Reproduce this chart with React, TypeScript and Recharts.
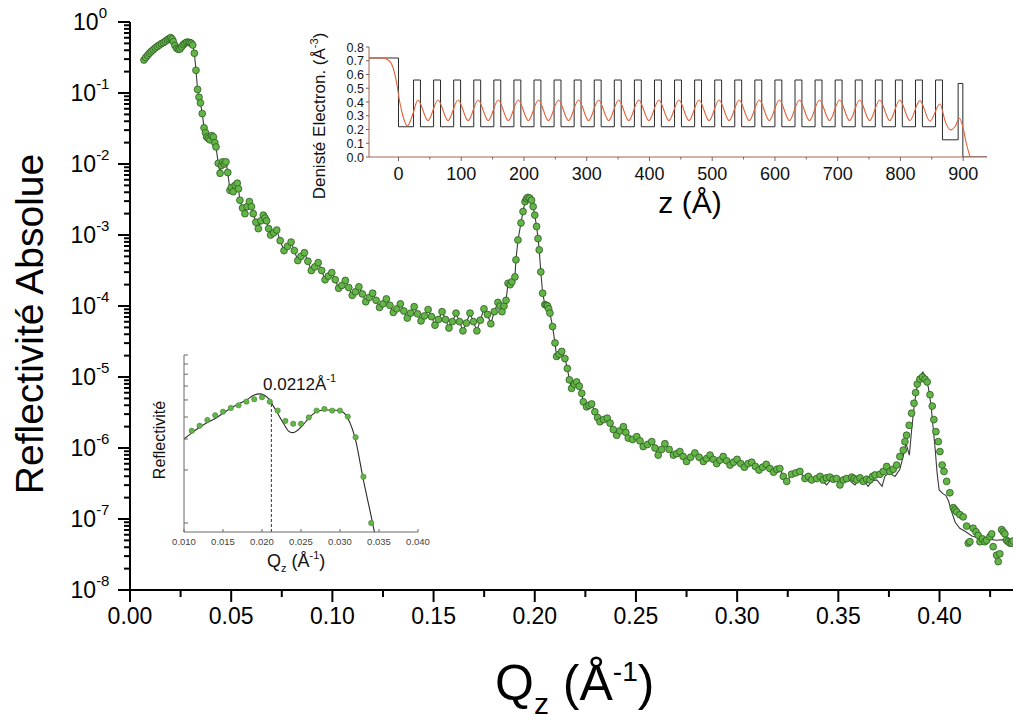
import React from 'react';
import { ComposedChart, Line, Scatter, XAxis, YAxis, ReferenceLine } from 'recharts';

const FONT = "'Liberation Sans', Arial, Helvetica, sans-serif";

// ---------------- Main chart: [Qz (Å^-1), log10(reflectivity)] ----------------
const criticalEdge: [number, number][] = [
  [0.0069, -0.535], [0.0078, -0.5], [0.0087, -0.47], [0.0096, -0.44], [0.0105, -0.415], [0.0115, -0.39],
  [0.0125, -0.365], [0.0135, -0.345], [0.0145, -0.325], [0.0155, -0.305], [0.0165, -0.29], [0.0175, -0.27],
  [0.0185, -0.25], [0.0193, -0.235], [0.0201, -0.22], [0.0208, -0.24], [0.0214, -0.275], [0.0222, -0.33],
  [0.0231, -0.37], [0.0239, -0.385], [0.0247, -0.38], [0.0255, -0.35], [0.0263, -0.32], [0.0271, -0.3],
  [0.028, -0.285], [0.0288, -0.285], [0.0296, -0.29], [0.0303, -0.3], [0.031, -0.325], [0.0318, -0.44],
  [0.0326, -0.68], [0.0334, -0.95], [0.0341, -1.06], [0.0348, -1.14], [0.0357, -1.29], [0.0366, -1.49],
];

const fringesLow: [number, number][] = [
  [0.0373, -1.56], [0.0379, -1.62], [0.0387, -1.64], [0.0395, -1.66], [0.0404, -1.6], [0.0412, -1.62],
  [0.0419, -1.7], [0.0425, -1.76], [0.0436, -1.99], [0.0445, -2.13], [0.0452, -2.02], [0.0458, -1.97],
  [0.0466, -2.0], [0.0474, -1.97], [0.0483, -2.12], [0.0494, -2.37], [0.0501, -2.33], [0.051, -2.39],
  [0.052, -2.3], [0.053, -2.27], [0.0536, -2.35], [0.0543, -2.51], [0.0556, -2.62], [0.0568, -2.7],
  [0.0579, -2.6], [0.059, -2.53], [0.06, -2.6], [0.0609, -2.7], [0.0622, -2.82], [0.0634, -2.91],
  [0.0647, -2.8], [0.0659, -2.72], [0.0667, -2.76], [0.0675, -2.8], [0.0685, -2.91], [0.0695, -3.0],
  [0.071, -2.97], [0.0725, -2.93], [0.0742, -3.08], [0.0761, -3.22], [0.0778, -3.16], [0.0796, -3.1],
  [0.0812, -3.22], [0.0829, -3.36], [0.0845, -3.3], [0.0862, -3.25], [0.0879, -3.37], [0.0896, -3.5],
  [0.0913, -3.45], [0.093, -3.39], [0.0947, -3.5], [0.0964, -3.63], [0.098, -3.58], [0.0997, -3.53],
  [0.1014, -3.63], [0.1031, -3.75], [0.1047, -3.71], [0.1064, -3.64], [0.1081, -3.74], [0.1098, -3.85],
  [0.1114, -3.8], [0.1131, -3.73], [0.1148, -3.83], [0.1165, -3.94], [0.1182, -3.88], [0.1199, -3.82],
  [0.1216, -3.92], [0.1233, -4.02], [0.125, -3.97], [0.1267, -3.9], [0.1284, -3.99], [0.1301, -4.09],
  [0.1318, -4.04], [0.1336, -3.97], [0.1353, -4.07], [0.137, -4.17], [0.1387, -4.1], [0.1404, -4.01],
  [0.1421, -4.11], [0.1438, -4.21], [0.1455, -4.14], [0.1473, -4.05], [0.149, -4.15], [0.1507, -4.27],
  [0.1524, -4.19], [0.1542, -4.08], [0.1559, -4.19], [0.1576, -4.31], [0.1593, -4.22], [0.1611, -4.1],
  [0.1628, -4.22], [0.1645, -4.35], [0.1662, -4.24], [0.168, -4.1], [0.1697, -4.22], [0.1714, -4.35],
  [0.1731, -4.2], [0.1749, -4.04], [0.1766, -4.12], [0.1783, -4.25], [0.18, -4.08], [0.1818, -3.95],
  [0.1828, -4.0], [0.1838, -4.08],
];

const braggPeak1: [number, number][] = [
  [0.1848, -4.0], [0.1858, -3.92], [0.1868, -3.68], [0.1878, -3.7], [0.1887, -3.66], [0.1902, -3.59],
  [0.1907, -3.35], [0.1917, -3.07], [0.1932, -2.83], [0.1942, -2.67], [0.1952, -2.53], [0.1959, -2.49],
  [0.1966, -2.47], [0.1975, -2.48], [0.1984, -2.51], [0.1992, -2.6], [0.2, -2.72], [0.2009, -2.88],
  [0.2016, -3.05], [0.2022, -3.21], [0.203, -3.52], [0.2039, -3.82], [0.205, -3.98], [0.2057, -3.99],
  [0.2063, -4.0], [0.2069, -4.04], [0.2075, -4.1], [0.2088, -4.29], [0.21, -4.52], [0.2108, -4.71],
  [0.212, -4.68], [0.2133, -4.64], [0.2149, -4.74], [0.2161, -4.88], [0.2171, -5.04], [0.2182, -5.16],
  [0.2195, -5.1], [0.2207, -5.07],
];

const fringesHigh: [number, number][] = [
  [0.222, -5.13], [0.2232, -5.23], [0.224, -5.35], [0.2256, -5.42], [0.2268, -5.4], [0.2281, -5.38],
  [0.2297, -5.49], [0.231, -5.57], [0.2322, -5.63], [0.234, -5.6], [0.2358, -5.58], [0.2372, -5.65],
  [0.2388, -5.74], [0.2405, -5.82], [0.2421, -5.76], [0.2438, -5.7], [0.245, -5.78], [0.2462, -5.86],
  [0.2483, -5.88], [0.2504, -5.84], [0.252, -5.9], [0.2536, -5.98], [0.2557, -5.95], [0.2578, -5.91],
  [0.2594, -6.0], [0.261, -6.1], [0.2627, -6.02], [0.2643, -5.94], [0.2664, -6.02], [0.2685, -6.1],
  [0.2701, -6.08], [0.2717, -6.05], [0.2733, -6.12], [0.275, -6.19], [0.277, -6.13], [0.2791, -6.07],
  [0.2812, -6.13], [0.2833, -6.19], [0.2849, -6.15], [0.2866, -6.1], [0.2882, -6.16], [0.2899, -6.22],
  [0.2915, -6.17], [0.2931, -6.12], [0.2948, -6.18], [0.2965, -6.24], [0.2982, -6.2], [0.3, -6.16],
  [0.3018, -6.22], [0.3036, -6.27], [0.3054, -6.22], [0.3072, -6.2], [0.309, -6.26], [0.3108, -6.31],
  [0.3126, -6.27], [0.3144, -6.23], [0.3162, -6.29], [0.318, -6.34], [0.3196, -6.3], [0.3211, -6.29],
  [0.3228, -6.4], [0.3245, -6.47], [0.3269, -6.37], [0.329, -6.35], [0.331, -6.33], [0.3335, -6.43],
  [0.3352, -6.4], [0.3368, -6.45], [0.3393, -6.43], [0.341, -6.4], [0.3425, -6.45], [0.3441, -6.42],
  [0.3458, -6.41], [0.3475, -6.44], [0.3491, -6.43], [0.3508, -6.52], [0.3525, -6.45], [0.3541, -6.43],
  [0.3566, -6.41], [0.3578, -6.43], [0.359, -6.45], [0.3607, -6.42], [0.3623, -6.47], [0.364, -6.44],
  [0.3656, -6.45], [0.3669, -6.4], [0.3681, -6.38], [0.3706, -6.37], [0.3722, -6.33], [0.3739, -6.26],
  [0.3755, -6.33], [0.3771, -6.3], [0.3788, -6.24],
];

const braggPeak2: [number, number][] = [
  [0.3804, -6.12], [0.3821, -6.03], [0.3829, -5.91], [0.3837, -5.82], [0.385, -5.68], [0.3862, -5.51],
  [0.3874, -5.37], [0.3882, -5.22], [0.389, -5.1], [0.3903, -5.03], [0.3916, -5.0], [0.3928, -5.03],
  [0.3939, -5.07], [0.3953, -5.25], [0.3964, -5.41], [0.3972, -5.6], [0.3982, -5.77], [0.3994, -5.91],
  [0.4002, -6.05], [0.4013, -6.24], [0.4022, -6.33], [0.4035, -6.47], [0.4051, -6.63], [0.4068, -6.84],
  [0.4076, -6.87], [0.4085, -6.9], [0.4101, -6.94], [0.4117, -6.97], [0.4134, -7.1], [0.4142, -7.34],
  [0.415, -7.32], [0.4166, -7.13], [0.418, -7.18], [0.4191, -7.23], [0.42, -7.32], [0.4212, -7.28],
  [0.4224, -7.32], [0.4233, -7.3], [0.4249, -7.25], [0.4258, -7.21], [0.4265, -7.39], [0.4282, -7.51],
  [0.429, -7.6], [0.4298, -7.49], [0.4307, -7.15], [0.4315, -7.18], [0.4323, -7.21], [0.4331, -7.3],
  [0.4339, -7.32], [0.4348, -7.34], [0.4356, -7.34], [0.4363, -7.31],
];

// simulated curve where it departs from the measured points
const fitTail: [number, number][] = [
  [0.34, -6.42], [0.342, -6.46], [0.3442, -6.52], [0.3465, -6.44], [0.349, -6.42], [0.3515, -6.44],
  [0.354, -6.42], [0.356, -6.47], [0.3582, -6.52], [0.3605, -6.44], [0.3625, -6.45], [0.3647, -6.54],
  [0.3668, -6.46], [0.369, -6.45], [0.3716, -6.54], [0.373, -6.4], [0.375, -6.35], [0.378, -6.4],
  [0.3804, -6.3], [0.382, -6.12], [0.3834, -5.93], [0.3851, -6.1], [0.3862, -5.75], [0.3875, -5.4],
  [0.389, -5.12], [0.3905, -4.98], [0.3918, -4.93], [0.3932, -5.02], [0.3945, -5.15], [0.3958, -5.4],
  [0.3968, -5.7], [0.3978, -6.0], [0.3988, -6.35], [0.3998, -6.59], [0.4015, -6.64], [0.4032, -6.67],
  [0.4045, -6.75], [0.406, -6.9], [0.4078, -7.05], [0.41, -7.13], [0.413, -7.18], [0.416, -7.24],
  [0.42, -7.27], [0.424, -7.28], [0.428, -7.3], [0.432, -7.29], [0.4363, -7.3],
];

const mainXTicks = [0, 0.025, 0.05, 0.075, 0.1, 0.125, 0.15, 0.175, 0.2, 0.225, 0.25, 0.275, 0.3, 0.325, 0.35, 0.375, 0.4, 0.425];
const decades = [-8, -7, -6, -5, -4, -3, -2, -1, 0];
const mantissas = [1, 2, 3, 4, 5, 6, 7, 8, 9];

// ---------------- Electron density inset: [z (Å), density (Å^-3)] ----------------
const stepProfile: [number, number][] = [
  [-47, 0.72], [0, 0.22], [24, 0.56], [35, 0.22], [56, 0.56], [67, 0.22], [88, 0.56], [99, 0.22],
  [120, 0.56], [131, 0.22], [152, 0.56], [163, 0.22], [184, 0.56], [195, 0.22], [216, 0.56], [227, 0.22],
  [248, 0.56], [259, 0.22], [280, 0.56], [291, 0.22], [312, 0.56], [323, 0.22], [344, 0.56], [355, 0.22],
  [376, 0.56], [387, 0.22], [408, 0.56], [419, 0.22], [440, 0.56], [451, 0.22], [472, 0.56], [483, 0.22],
  [504, 0.56], [515, 0.22], [536, 0.56], [547, 0.22], [568, 0.56], [579, 0.22], [600, 0.56], [611, 0.22],
  [632, 0.56], [643, 0.22], [664, 0.56], [675, 0.22], [696, 0.56], [707, 0.22], [728, 0.56], [739, 0.22],
  [760, 0.56], [771, 0.22], [792, 0.56], [803, 0.22], [824, 0.56], [835, 0.22], [856, 0.56], [867, 0.125],
  [892, 0.535], [899.5, 0], [938, 0],
];

const smoothProfile: [number, number][] = [
  [-47, 0.72], [-25, 0.72], [-15, 0.7], [-8, 0.64], [-3, 0.54], [2, 0.4], [7, 0.3], [14, 0.225], [22, 0.3],
  [31, 0.415], [47, 0.265], [63, 0.415], [79, 0.265], [95, 0.415], [111, 0.265], [127, 0.415], [143, 0.265],
  [159, 0.415], [175, 0.265], [191, 0.415], [207, 0.265], [223, 0.415], [239, 0.265], [255, 0.415], [271, 0.265],
  [287, 0.415], [303, 0.265], [319, 0.415], [335, 0.265], [351, 0.415], [367, 0.265], [383, 0.415], [399, 0.265],
  [415, 0.415], [431, 0.265], [447, 0.415], [463, 0.265], [479, 0.415], [495, 0.265], [511, 0.415], [527, 0.265],
  [543, 0.415], [559, 0.265], [575, 0.415], [591, 0.265], [607, 0.415], [623, 0.265], [639, 0.415], [655, 0.265],
  [671, 0.415], [687, 0.265], [703, 0.415], [719, 0.265], [735, 0.415], [751, 0.265], [767, 0.415], [783, 0.265],
  [799, 0.415], [815, 0.265], [831, 0.41], [847, 0.26], [863, 0.385], [872, 0.25], [880, 0.197], [887, 0.22],
  [894, 0.282], [900, 0.21], [905, 0.1], [911, 0],
];

const zTicks = [0, 50, 100, 150, 200, 250, 300, 350, 400, 450, 500, 550, 600, 650, 700, 750, 800, 850, 900];
const densTicks = [0, 0.1, 0.2, 0.3, 0.4, 0.5, 0.6, 0.7, 0.8];

// ---------------- Critical-angle inset: [Qz, reflectivity] ----------------
const insetMeasured: [number, number][] = [
  [0.011, 0.334], [0.012, 0.357], [0.013, 0.385], [0.014, 0.409], [0.015, 0.429], [0.016, 0.45],
  [0.017, 0.466], [0.018, 0.489], [0.019, 0.505], [0.02, 0.518], [0.021, 0.489], [0.022, 0.435],
  [0.023, 0.38], [0.024, 0.366], [0.025, 0.366], [0.026, 0.398], [0.027, 0.435], [0.028, 0.444],
  [0.029, 0.435], [0.03, 0.435], [0.031, 0.402], [0.032, 0.307], [0.033, 0.183], [0.034, 0.1],
];
const insetFit: [number, number][] = [
  [0.01, 0.3], [0.011, 0.325], [0.012, 0.35], [0.013, 0.372], [0.014, 0.392], [0.015, 0.42], [0.016, 0.449],
  [0.017, 0.475], [0.018, 0.5], [0.019, 0.533], [0.0197, 0.541], [0.0205, 0.525], [0.021, 0.5],
  [0.0215, 0.458], [0.022, 0.42], [0.0228, 0.365], [0.0235, 0.33], [0.024, 0.326], [0.025, 0.35],
  [0.026, 0.394], [0.027, 0.428], [0.028, 0.438], [0.029, 0.438], [0.03, 0.434], [0.031, 0.394],
  [0.032, 0.296], [0.033, 0.175], [0.034, 0.109], [0.0345, 0.085],
];
const insetXTicks = [0.01, 0.015, 0.02, 0.025, 0.03, 0.035, 0.04];
const insetYTicks = [0.1, 0.2, 0.3, 0.4, 0.5, 0.6, 0.7, 0.8, 0.9];
const criticalQ = 0.0212;

// ---------------- derived tables ----------------
const toPts = (arr: [number, number][]) => arr.map(([q, lg]) => ({ q, r: Math.pow(10, lg) }));
const measured = toPts([...criticalEdge, ...fringesLow, ...braggPeak1, ...fringesHigh, ...braggPeak2]);
const fitLine = [...measured.filter((p) => p.q < 0.34), ...toPts(fitTail)];
const mainYTicks = decades.flatMap((d) => mantissas.map((m) => m * Math.pow(10, d))).filter((v) => v <= 1.0000001);
const stepData = stepProfile.map(([z, v]) => ({ z, v }));
const smoothData = smoothProfile.map(([z, v]) => ({ z, v }));
const insetData = insetMeasured.map(([q, r]) => ({ q, r }));
const insetFitData = insetFit.map(([q, r]) => ({ q, r }));

const isDecade = (v: number) => Math.abs(Math.log10(v) - Math.round(Math.log10(v))) < 1e-6;
const isMult = (v: number, s: number) => Math.abs(v / s - Math.round(v / s)) < 1e-6;

// ---------------- tick renderers ----------------
const MainBottomTick = (p: any) => {
  const v = p.payload.value;
  const major = isMult(v, 0.05);
  return (
    <g>
      <line x1={p.x} x2={p.x} y1={p.y} y2={p.y + (major ? 12 : 7)} stroke="#000" strokeWidth={2} />
      {major && (
        <text x={p.x} y={p.y + 34} textAnchor="middle" fontSize={23} fontFamily={FONT} fill="#000">
          {v.toFixed(2)}
        </text>
      )}
    </g>
  );
};
const MainTopTick = (p: any) => {
  const major = isMult(p.payload.value, 0.05);
  return <line x1={p.x} x2={p.x} y1={p.y} y2={p.y + (major ? 10 : 8)} stroke="#000" strokeWidth={2} />;
};
const MainLeftTick = (p: any) => {
  const v = p.payload.value;
  const major = isDecade(v);
  const e = Math.round(Math.log10(v));
  return (
    <g>
      <line x1={p.x - (major ? 12 : 6)} x2={p.x} y1={p.y} y2={p.y} stroke="#000" strokeWidth={2} />
      {major && (
        <text x={p.x - 40} y={p.y + 8} textAnchor="middle" fontSize={23} fontFamily={FONT} fill="#000">
          10<tspan dy={-12} fontSize={15}>{String(e)}</tspan>
        </text>
      )}
    </g>
  );
};
const MainRightTick = (p: any) => <line x1={p.x - 8} x2={p.x} y1={p.y} y2={p.y} stroke="#000" strokeWidth={2} />;

const DensBottomTick = (p: any) => {
  const v = p.payload.value;
  const major = isMult(v, 100);
  return (
    <g>
      <line x1={p.x} x2={p.x} y1={p.y} y2={p.y + (major ? 4 : 2.5)} stroke="#666" strokeWidth={1} />
      {major && (
        <text x={p.x} y={p.y + 23} textAnchor="middle" fontSize={18} fontFamily={FONT} fill="#111">
          {String(v)}
        </text>
      )}
    </g>
  );
};
const DensTopTick = (p: any) => <line x1={p.x} x2={p.x} y1={p.y} y2={p.y + 3} stroke="#888" strokeWidth={1} />;
const DensLeftTick = (p: any) => (
  <g>
    <line x1={p.x - 3} x2={p.x} y1={p.y} y2={p.y} stroke="#666" strokeWidth={1} />
    <text x={p.x - 5} y={p.y + 4.5} textAnchor="end" fontSize={12.5} fontFamily={FONT} fill="#111">
      {p.payload.value.toFixed(1)}
    </text>
  </g>
);

const InsetBottomTick = (p: any) => (
  <g>
    <line x1={p.x} x2={p.x} y1={p.y} y2={p.y - 3} stroke="#666" strokeWidth={1} />
    <text x={p.x} y={p.y + 13} textAnchor="middle" fontSize={9.5} fontFamily={FONT} fill="#444">
      {p.payload.value.toFixed(3)}
    </text>
  </g>
);
const InsetLeftTick = (p: any) => <line x1={p.x} x2={p.x + 4} y1={p.y} y2={p.y} stroke="#666" strokeWidth={1} />;

const none = () => null;

export default function App() {
  const frameBrown = '#a9624c';
  return (
    <div style={{ position: 'absolute', left: 0, top: 0, width: 1013, height: 725, overflow: 'hidden', background: '#fff' }}>
      {/* main chart */}
      <div style={{ position: 'absolute', left: 0, top: 0 }}>
        <ComposedChart width={1020} height={725} margin={{ top: 22, right: 6, bottom: 0, left: 0 }}>
          <XAxis xAxisId="b" type="number" dataKey="q" domain={[0, 0.4368]} allowDataOverflow ticks={mainXTicks}
            interval={0} height={135} tickSize={0} tickMargin={0} tickLine={false} tick={MainBottomTick}
            axisLine={{ stroke: '#000', strokeWidth: 2 }} />
          <XAxis xAxisId="t" orientation="top" type="number" dataKey="q" domain={[0, 0.4368]} allowDataOverflow
            ticks={mainXTicks} interval={0} height={0} tickSize={0} tickMargin={0} tickLine={false} tick={MainTopTick}
            axisLine={{ stroke: '#000', strokeWidth: 2 }} />
          <YAxis yAxisId="l" type="number" scale="log" dataKey="r" domain={[1e-8, 1]} allowDataOverflow ticks={mainYTicks}
            interval={0} width={130} tickSize={0} tickMargin={0} tickLine={false} tick={MainLeftTick}
            axisLine={{ stroke: '#000', strokeWidth: 2 }} />
          <YAxis yAxisId="rr" orientation="right" type="number" scale="log" dataKey="r" domain={[1e-8, 1]} allowDataOverflow
            ticks={decades.map((d) => Math.pow(10, d))} interval={0} width={0} tickSize={0} tickMargin={0} tickLine={false}
            tick={MainRightTick} axisLine={{ stroke: '#000', strokeWidth: 2 }} />
          <Scatter xAxisId="b" yAxisId="l" data={measured} isAnimationActive={false}
            shape={(p: any) => <circle cx={p.cx} cy={p.cy} r={3.4} fill="#63b548" stroke="#2b5a20" strokeWidth={0.8} />} />
          <Line xAxisId="b" yAxisId="l" data={fitLine} dataKey="r" type="linear" stroke="#3a3a3a" strokeWidth={1.1}
            dot={false} activeDot={false} isAnimationActive={false} />
          <Line xAxisId="t" yAxisId="rr" data={fitLine} dataKey="r" stroke="none" dot={false} activeDot={false}
            isAnimationActive={false} />
        </ComposedChart>
      </div>

      {/* electron density inset */}
      <div style={{ position: 'absolute', left: 300, top: 20 }}>
        <ComposedChart width={700} height={200} margin={{ top: 27, right: 13, bottom: 0, left: 0 }}>
          <XAxis xAxisId="b" type="number" dataKey="z" domain={[-47, 938]} allowDataOverflow ticks={zTicks} interval={0}
            height={63} tickSize={0} tickMargin={0} tickLine={false} tick={DensBottomTick}
            axisLine={{ stroke: frameBrown, strokeWidth: 1 }} />
          <XAxis xAxisId="t" orientation="top" type="number" dataKey="z" domain={[-47, 938]} allowDataOverflow ticks={zTicks}
            interval={0} height={0} tickSize={0} tickMargin={0} tickLine={false} tick={DensTopTick}
            axisLine={{ stroke: frameBrown, strokeWidth: 1 }} />
          <YAxis yAxisId="l" type="number" dataKey="v" domain={[0, 0.8]} allowDataOverflow ticks={densTicks} interval={0}
            width={69} tickSize={0} tickMargin={0} tickLine={false} tick={DensLeftTick}
            axisLine={{ stroke: frameBrown, strokeWidth: 1 }} />
          <YAxis yAxisId="rr" orientation="right" type="number" dataKey="v" domain={[0, 0.8]} allowDataOverflow
            ticks={densTicks} interval={0} width={0} tickSize={0} tickMargin={0} tickLine={false} tick={none}
            axisLine={{ stroke: frameBrown, strokeWidth: 1 }} />
          <Line xAxisId="b" yAxisId="l" data={stepData} dataKey="v" type="stepAfter" stroke="#2a2a2a" strokeWidth={1}
            dot={false} activeDot={false} isAnimationActive={false} />
          <Line xAxisId="b" yAxisId="l" data={smoothData} dataKey="v" type="monotone" stroke="#e2623c" strokeWidth={1.1}
            dot={false} activeDot={false} isAnimationActive={false} />
          <Line xAxisId="t" yAxisId="rr" data={stepData} dataKey="v" stroke="none" dot={false} activeDot={false}
            isAnimationActive={false} />
        </ComposedChart>
      </div>

      {/* critical angle inset */}
      <div style={{ position: 'absolute', left: 100, top: 330 }}>
        <ComposedChart width={330} height={260} margin={{ top: 25, right: 12, bottom: 0, left: 0 }}>
          <XAxis xAxisId="b" type="number" dataKey="q" domain={[0.01, 0.04]} allowDataOverflow ticks={insetXTicks}
            interval={0} height={58} tickSize={0} tickMargin={0} tickLine={false} tick={InsetBottomTick}
            axisLine={{ stroke: '#666', strokeWidth: 1 }} />
          <XAxis xAxisId="t" orientation="top" type="number" dataKey="q" domain={[0.01, 0.04]} allowDataOverflow
            ticks={insetXTicks} interval={0} height={0} tickSize={0} tickMargin={0} tickLine={false} tick={none}
            axisLine={{ stroke: frameBrown, strokeWidth: 1 }} />
          <YAxis yAxisId="l" type="number" scale="log" dataKey="r" domain={[0.0889, 0.9]} allowDataOverflow
            ticks={insetYTicks} interval={0} width={84} tickSize={0} tickMargin={0} tickLine={false} tick={InsetLeftTick}
            axisLine={{ stroke: '#666', strokeWidth: 1 }} />
          <YAxis yAxisId="rr" orientation="right" type="number" scale="log" dataKey="r" domain={[0.0889, 0.9]}
            allowDataOverflow ticks={insetYTicks} interval={0} width={0} tickSize={0} tickMargin={0} tickLine={false}
            tick={none} axisLine={{ stroke: frameBrown, strokeWidth: 1 }} />
          <ReferenceLine xAxisId="b" yAxisId="l" ifOverflow="visible"
            segment={[{ x: criticalQ, y: 0.0889 }, { x: criticalQ, y: 0.49 }]}
            stroke="#333" strokeDasharray="3 2" strokeWidth={1} />
          <Scatter xAxisId="b" yAxisId="l" data={insetData} isAnimationActive={false}
            shape={(p: any) => <circle cx={p.cx} cy={p.cy} r={2.7} fill="#63b548" stroke="#3d7a2e" strokeWidth={0.5} />} />
          <Line xAxisId="b" yAxisId="l" data={insetFitData} dataKey="r" type="monotone" stroke="#2a2a2a" strokeWidth={1.1}
            dot={false} activeDot={false} isAnimationActive={false} />
          <Line xAxisId="t" yAxisId="rr" data={insetFitData} dataKey="r" stroke="none" dot={false} activeDot={false}
            isAnimationActive={false} />
        </ComposedChart>
      </div>

      {/* titles */}
      <svg width={1013} height={725} style={{ position: 'absolute', left: 0, top: 0, pointerEvents: 'none' }}
        fontFamily={FONT}>
        <text transform="translate(43,324) rotate(-90)" textAnchor="middle" fontSize={39} fill="#000">
          Reflectivité Absolue
        </text>
        <text x={495} y={700} fontSize={50} fill="#000">
          Q<tspan fontSize={30} dy={14}>z</tspan>
          <tspan dy={-14}> (Å</tspan>
          <tspan fontSize={28} dy={-19}>-1</tspan>
          <tspan dy={19}>)</tspan>
        </text>
        <text transform="translate(325,116) rotate(-90)" textAnchor="middle" fontSize={17} fill="#111">
          Denisté Electron. (Å<tspan fontSize={11} dy={-7}>-3</tspan><tspan dy={7}>)</tspan>
        </text>
        <text x={690} y={213} textAnchor="middle" fontSize={30} fill="#000">z (Å)</text>
        <text transform="translate(165,440) rotate(-90)" textAnchor="middle" fontSize={16} fill="#111">
          Reflectivité
        </text>
        <text x={267} y={567} fontSize={18} fill="#111">
          Q<tspan fontSize={11} dy={5}>z</tspan>
          <tspan dy={-5}> (Å</tspan>
          <tspan fontSize={11} dy={-8}>-1</tspan>
          <tspan dy={8}>)</tspan>
        </text>
        <text x={263} y={390} fontSize={17} fill="#111">
          0.0212Å<tspan fontSize={11} dy={-8}>-1</tspan>
        </text>
      </svg>
    </div>
  );
}
